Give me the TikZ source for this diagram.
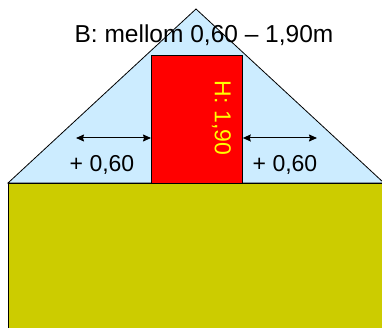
\documentclass[tikz,border=0pt]{standalone}
\usepackage{fontspec}
\setmainfont{Liberation Sans}
\usetikzlibrary{arrows.meta}
\definecolor{skyfill}{RGB}{204,236,255}
\definecolor{groundfill}{RGB}{204,204,0}
\definecolor{textyellow}{RGB}{255,255,0}
\tikzset{
  edge/.style={draw=black, line width=0.8pt},
  lbl/.style={inner sep=0pt, font=\fontsize{23}{27}\selectfont},
  biglbl/.style={inner sep=0pt, font=\fontsize{24.5}{29}\selectfont},
  dimarrow/.style={line width=1pt, {Stealth[length=8pt,width=7pt,inset=1pt]}-{Stealth[length=8pt,width=7pt,inset=1pt]}}
}
\begin{document}
\begin{tikzpicture}[x=1pt,y=-1pt]
\useasboundingbox (0,0) rectangle (382,328);
% roof triangle
\filldraw[edge, fill=skyfill] (8,183) -- (196,9) -- (384,183) -- cycle;
% ground
\filldraw[edge, fill=groundfill] (8,340) -- (8,183) -- (400,183) -- (400,340) -- cycle;
% red box
\node[edge, fill=red, minimum width=91pt, minimum height=128pt, inner sep=0pt, anchor=north west] (box) at (151,55) {};
% title
\node[biglbl, anchor=base] (title) at (204,43) {B: mellom 0,60 – 1,90m};
% height label
\node[lbl, text=textyellow, rotate=-90] (h) at (221.5,118) {H: 1,90};
% arrows
\coordinate (la) at (76,138);
\coordinate (ra) at (317,138);
\draw[dimarrow] (la) -- (box.west |- la);
\draw[dimarrow] (box.east |- ra) -- (ra);
% side labels
\node[lbl, anchor=base] (lt) at (102,172) {+ 0,60};
\node[lbl, anchor=base] (rt) at (285,172) {+ 0,60};
\end{tikzpicture}
\end{document}
